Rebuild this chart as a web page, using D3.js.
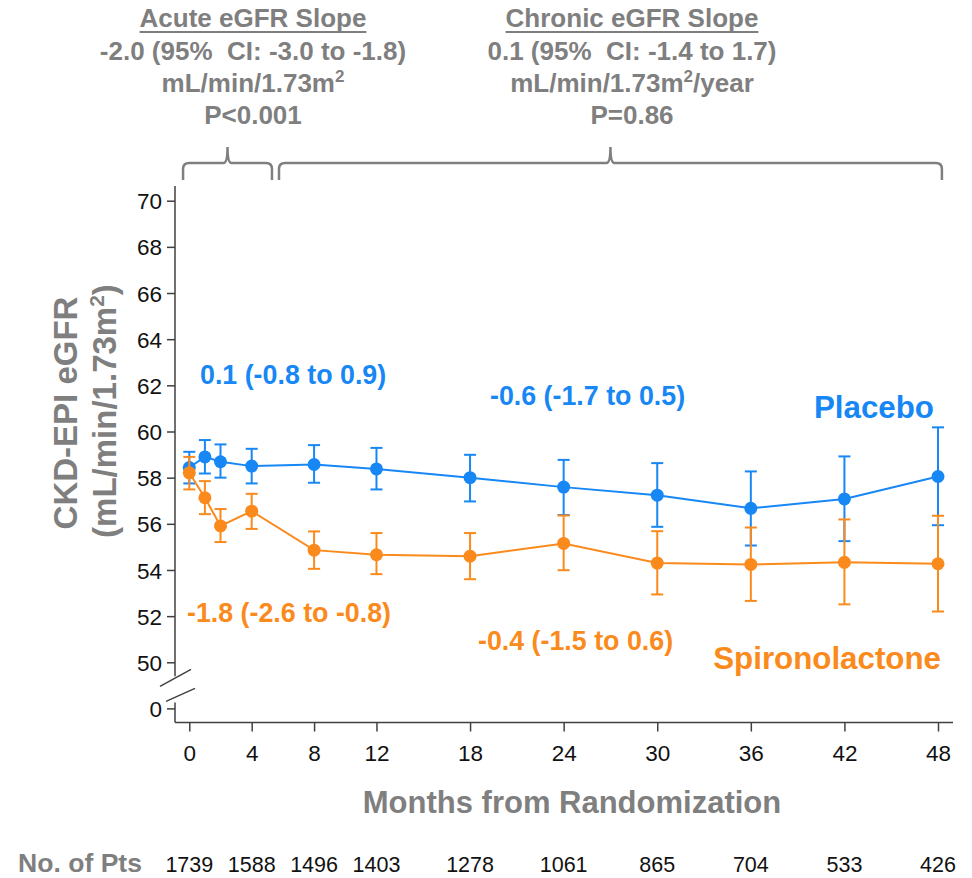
<!DOCTYPE html>
<html>
<head>
<meta charset="utf-8">
<script src="https://cdn.jsdelivr.net/npm/d3@7"></script>
<style>
  body { margin: 0; background: #fff; }
  svg { display: block; font-family: "Liberation Sans", Arial, sans-serif; }
  svg text { white-space: pre; }
  .axis path, .axis line { stroke: #404040; stroke-width: 1.5; }
  .axis text { font-size: 22.5px; fill: #111; font-family: "Liberation Sans", Arial, sans-serif; }
  .gray { fill: #7f7f7f; font-weight: bold; }
</style>
</head>
<body>
<div id="chart"></div>
<script>
// months where eGFR was measured
var months = [0, 1, 2, 4, 8, 12, 18, 24, 30, 36, 42, 48];

var placeboMean = [58.44, 58.90, 58.69, 58.50, 58.57, 58.38, 58.00, 57.59, 57.24, 56.67, 57.08, 58.05];
var placeboLow  = [57.75, 58.18, 58.00, 57.75, 57.78, 57.49, 56.97, 56.38, 55.87, 55.06, 55.25, 55.94];
var placeboHigh = [59.12, 59.63, 59.44, 59.25, 59.41, 59.29, 58.99, 58.77, 58.63, 58.27, 58.92, 60.18];

var spiroMean = [58.21, 57.13, 55.91, 56.55, 54.86, 54.66, 54.60, 55.15, 54.30, 54.24, 54.33, 54.27];
var spiroLow  = [57.49, 56.42, 55.21, 55.78, 54.05, 53.82, 53.60, 53.99, 52.94, 52.66, 52.51, 52.20];
var spiroHigh = [58.90, 57.85, 56.64, 57.30, 55.67, 55.60, 55.60, 56.36, 55.68, 55.84, 56.19, 56.35];

var tickMonths = [0, 4, 8, 12, 18, 24, 30, 36, 42, 48];
var numPts = [1739, 1588, 1496, 1403, 1278, 1061, 865, 704, 533, 426];
var yTicks = [0, 50, 52, 54, 56, 58, 60, 62, 64, 66, 68, 70];

var blue = "#1787f5";
var orange = "#fb8a1c";
var gray = "#7f7f7f";

var width = 972, height = 878;

var svg = d3.select("#chart").append("svg")
    .attr("width", width)
    .attr("height", height);

var x = d3.scaleLinear()
    .domain([0, 48])
    .range([189.3, 938]);

// broken axis: 0 sits just under 50
var y = d3.scaleLinear()
    .domain([0, 50, 70])
    .range([708.4, 662.3, 200.7]);

var axisX = 175, axisY = 722.5;

// x axis
var xAxis = d3.axisBottom(x)
    .tickValues(tickMonths)
    .tickSize(9)
    .tickSizeOuter(0)
    .tickPadding(14);

var gx = svg.append("g")
    .attr("class", "axis x-axis")
    .attr("transform", "translate(0," + axisY + ")")
    .call(xAxis);
gx.select(".domain").remove();
gx.append("line")
    .attr("x1", axisX).attr("x2", 953)
    .attr("y1", 0).attr("y2", 0);

// y axis
var yAxis = d3.axisLeft(y)
    .tickValues(yTicks)
    .tickSize(8)
    .tickPadding(5);

var gy = svg.append("g")
    .attr("class", "axis y-axis")
    .attr("transform", "translate(" + axisX + ",0)")
    .call(yAxis);
gy.select(".domain").remove();
gy.selectAll(".tick text").attr("dy", "0.36em");
gy.append("line")
    .attr("x1", 0).attr("x2", 0)
    .attr("y1", 186).attr("y2", y(50) + 14);
gy.append("line")
    .attr("x1", 0).attr("x2", 0)
    .attr("y1", y(0) - 6).attr("y2", axisY);

// break marks
var brk = svg.append("g").attr("stroke", "#404040").attr("stroke-width", 1.5);
brk.append("line").attr("x1", axisX - 15).attr("y1", y(50) + 24).attr("x2", axisX + 16).attr("y2", y(50) + 7);
brk.append("line").attr("x1", axisX - 9).attr("y1", y(0) - 7).attr("x2", axisX + 20).attr("y2", y(0) - 20);

// series
function drawSeries(mean, low, high, color) {
    var data = months.map(function(m, i) {
        return { m: m, v: mean[i], lo: low[i], hi: high[i] };
    });
    var g = svg.append("g");

    g.selectAll(".err")
        .data(data)
        .enter().append("line")
        .attr("class", "err")
        .attr("x1", function(d) { return x(d.m); })
        .attr("x2", function(d) { return x(d.m); })
        .attr("y1", function(d) { return y(d.lo); })
        .attr("y2", function(d) { return y(d.hi); })
        .attr("stroke", color)
        .attr("stroke-width", 2);

    ["lo", "hi"].forEach(function(k) {
        g.selectAll(".cap-" + k)
            .data(data)
            .enter().append("line")
            .attr("class", "cap-" + k)
            .attr("x1", function(d) { return x(d.m) - 6; })
            .attr("x2", function(d) { return x(d.m) + 6; })
            .attr("y1", function(d) { return y(d[k]); })
            .attr("y2", function(d) { return y(d[k]); })
            .attr("stroke", color)
            .attr("stroke-width", 2);
    });

    var line = d3.line()
        .x(function(d) { return x(d.m); })
        .y(function(d) { return y(d.v); });

    g.append("path")
        .datum(data)
        .attr("d", line)
        .attr("fill", "none")
        .attr("stroke", color)
        .attr("stroke-width", 2);

    g.selectAll(".dot")
        .data(data)
        .enter().append("circle")
        .attr("class", "dot")
        .attr("cx", function(d) { return x(d.m); })
        .attr("cy", function(d) { return y(d.v); })
        .attr("r", 6.5)
        .attr("fill", color);
}

drawSeries(placeboMean, placeboLow, placeboHigh, blue);
drawSeries(spiroMean, spiroLow, spiroHigh, orange);

// in-plot labels
function label(txt, xx, yy, color, size, anchor) {
    svg.append("text")
        .attr("x", xx).attr("y", yy)
        .attr("fill", color)
        .attr("font-size", size)
        .attr("font-weight", "bold")
        .attr("text-anchor", anchor || "start")
        .text(txt);
}
label("0.1 (-0.8 to 0.9)", 200, 384, blue, 26.8);
label("-0.6 (-1.7 to 0.5)", 490, 405, blue, 26.8);
label("Placebo", 934, 418, blue, 31.3, "end");
label("-1.8 (-2.6 to -0.8)", 187, 622, orange, 26.8);
label("-0.4 (-1.5 to 0.6)", 478, 650, orange, 26.8);
label("Spironolactone", 941, 669, orange, 31.3, "end");

// axis titles
svg.append("text")
    .attr("class", "gray")
    .attr("x", 572).attr("y", 813)
    .attr("text-anchor", "middle")
    .attr("font-size", 31)
    .text("Months from Randomization");

svg.append("text")
    .attr("class", "gray")
    .attr("font-size", 33)
    .attr("text-anchor", "middle")
    .attr("transform", "translate(77,413) rotate(-90)")
    .text("CKD-EPI eGFR");

var yt2 = svg.append("text")
    .attr("class", "gray")
    .attr("font-size", 33)
    .attr("text-anchor", "middle")
    .attr("transform", "translate(116,411) rotate(-90)");
yt2.append("tspan").text("(mL/min/1.73m");
yt2.append("tspan").attr("dy", -12).attr("font-size", 21).text("2");
yt2.append("tspan").attr("dy", 12).text(")");

// number at risk
svg.append("text")
    .attr("class", "gray")
    .attr("x", 18).attr("y", 872)
    .attr("font-size", 26)
    .attr("textLength", 124)
    .attr("lengthAdjust", "spacingAndGlyphs")
    .text("No. of Pts");

svg.selectAll(".npts")
    .data(numPts)
    .enter().append("text")
    .attr("class", "npts")
    .attr("x", function(d, i) { return x(tickMonths[i]); })
    .attr("y", 872)
    .attr("text-anchor", "middle")
    .attr("font-size", 21.5)
    .attr("fill", "#111")
    .text(function(d) { return d; });

// slope headers
function header(cx, lines, unitSuffix) {
    var g = svg.append("g").attr("class", "gray").attr("font-size", 26).attr("text-anchor", "middle");
    var t0 = g.append("text").attr("x", cx).attr("y", 27).text(lines[0]);
    var bb = t0.node().getBBox();
    g.append("line")
        .attr("x1", bb.x).attr("x2", bb.x + bb.width)
        .attr("y1", 32).attr("y2", 32)
        .attr("stroke", gray).attr("stroke-width", 2);
    g.append("text").attr("x", cx).attr("y", 60).text(lines[1]);
    var t2 = g.append("text").attr("x", cx).attr("y", 92);
    t2.append("tspan").text("mL/min/1.73m");
    t2.append("tspan").attr("dy", -10).attr("font-size", 17).text("2");
    t2.append("tspan").attr("dy", 10).text(unitSuffix);
    g.append("text").attr("x", cx).attr("y", 124).text(lines[2]);
}
header(253, ["Acute eGFR Slope", "-2.0 (95%  CI: -3.0 to -1.8)", "P<0.001"], "");
header(632, ["Chronic eGFR Slope", "0.1 (95%  CI: -1.4 to 1.7)", "P=0.86"], "/year");

// brackets
function bracket(m0, m1) {
    var x0 = x(m0), x1 = x(m1), xm = (x0 + x1) / 2;
    var top = 163, bot = 180, r = 6;
    var p = d3.path();
    p.moveTo(x0, bot);
    p.lineTo(x0, top + r);
    p.quadraticCurveTo(x0, top, x0 + r, top);
    p.lineTo(xm - 4, top);
    p.quadraticCurveTo(xm, top, xm, 147);
    p.quadraticCurveTo(xm, top, xm + 4, top);
    p.lineTo(x1 - r, top);
    p.quadraticCurveTo(x1, top, x1, top + r);
    p.lineTo(x1, bot);
    svg.append("path")
        .attr("d", p.toString())
        .attr("fill", "none")
        .attr("stroke", gray)
        .attr("stroke-width", 2.5);
}
bracket(-0.4, 5.3);
bracket(5.75, 48.25);
</script>
</body>
</html>
